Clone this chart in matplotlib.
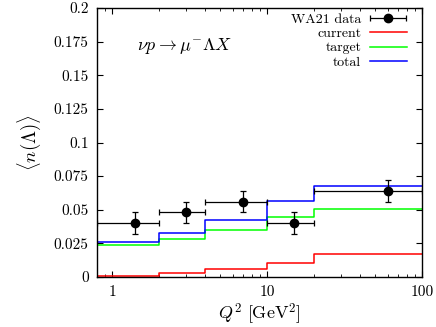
import numpy as np
import matplotlib
matplotlib.use("Agg")
import matplotlib.pyplot as plt
from matplotlib.ticker import FixedLocator, FixedFormatter, NullFormatter, LogLocator
from matplotlib.legend_handler import HandlerErrorbar

plt.rcParams['font.family'] = 'serif'
plt.rcParams['font.serif'] = ['cmr10']
plt.rcParams['mathtext.fontset'] = 'cm'
plt.rcParams['axes.formatter.use_mathtext'] = True

# Bin edges in Q^2 [GeV^2]
bin_edges = [0.8, 2, 4, 10, 20, 100]
current = [0.001, 0.0031, 0.0059, 0.0103, 0.017]
target = [0.0237, 0.0286, 0.0352, 0.0444, 0.0503]
total = [0.0258, 0.0325, 0.0425, 0.0563, 0.068]

# WA21 data
data_x = [1.4, 3.0, 7.0, 15.0, 60.0]
data_xlo = [0.8, 2, 4, 10, 20]
data_xhi = [2, 4, 10, 20, 100]
data_y = [0.040, 0.048, 0.056, 0.040, 0.064]
data_err = [0.008, 0.008, 0.008, 0.008, 0.008]

yticks = [0, 0.025, 0.05, 0.075, 0.1, 0.125, 0.15, 0.175, 0.2]
ytick_labels = ["0", "0.025", "0.05", "0.075", "0.1", "0.125", "0.15", "0.175", "0.2"]
xticks = [1, 10, 100]
xtick_labels = ["1", "10", "100"]

fig = plt.figure(figsize=(4.36, 3.27), dpi=100)
ax = fig.add_axes([97/436, 1-277/327, (422-97)/436, (277-8)/327])
ax.set_xscale('log')

def stepvals(v):
    return list(v) + [v[-1]]

lw = 1.1
ax.step(bin_edges, stepvals(current), where='post', color='#ff0000', lw=lw, label='current', zorder=2)
ax.step(bin_edges, stepvals(target), where='post', color='#00ff00', lw=lw, label='target', zorder=2)
ax.step(bin_edges, stepvals(total), where='post', color='#0000ff', lw=lw, label='total', zorder=2)

xerr = [np.array(data_x) - np.array(data_xlo), np.array(data_xhi) - np.array(data_x)]
ax.errorbar(data_x, data_y, xerr=xerr, yerr=data_err, fmt='o', color='black',
            ms=6, capsize=2, elinewidth=0.9, capthick=0.9, zorder=3)
# legend proxy (horizontal bar only, as in reference), placed outside the view
h_data = ax.errorbar([1.0], [-1.0], xerr=[0.1], fmt='o', color='black',
                     ms=6, capsize=2, elinewidth=0.9, capthick=0.9, label='WA21 data')

ax.set_xlim(0.8, 100)
ax.set_ylim(0, 0.2)
ax.yaxis.set_major_locator(FixedLocator(yticks))
ax.yaxis.set_major_formatter(FixedFormatter(ytick_labels))
ax.xaxis.set_major_locator(FixedLocator(xticks))
ax.xaxis.set_major_formatter(FixedFormatter(xtick_labels))
ax.xaxis.set_minor_locator(LogLocator(base=10, subs=np.arange(2, 10)))
ax.xaxis.set_minor_formatter(NullFormatter())

ax.tick_params(which='both', direction='in', top=True, right=True, labelsize=11)
ax.tick_params(which='major', length=4, width=0.8, pad=6)
ax.tick_params(which='minor', length=2, width=0.6)
for s in ax.spines.values():
    s.set_linewidth(1.0)

ax.set_xlabel(r'$Q^2\ [\mathrm{GeV}^2]$', fontsize=13, labelpad=2)
ax.set_ylabel(r'$\langle n(\Lambda)\rangle$', fontsize=13.5, labelpad=8)
ax.text(0.123, 0.86, r'$\nu p \to \mu^{-}\Lambda X$', transform=ax.transAxes,
        fontsize=13, ha='left', va='center')

handles, labels = ax.get_legend_handles_labels()
order = ['WA21 data', 'current', 'target', 'total']
hl = dict(zip(labels, handles))
ax.legend([hl[k] for k in order], order, loc='upper right', markerfirst=False,
          frameon=False, fontsize=10, handlelength=2.7, handletextpad=0.6,
          labelspacing=0.12, borderaxespad=0.0, borderpad=0.0,
          bbox_to_anchor=(407/436, 1-13/327), bbox_transform=fig.transFigure,
          handler_map={type(h_data): HandlerErrorbar(xerr_size=1.3)})

fig.savefig('out.png', dpi=100)
